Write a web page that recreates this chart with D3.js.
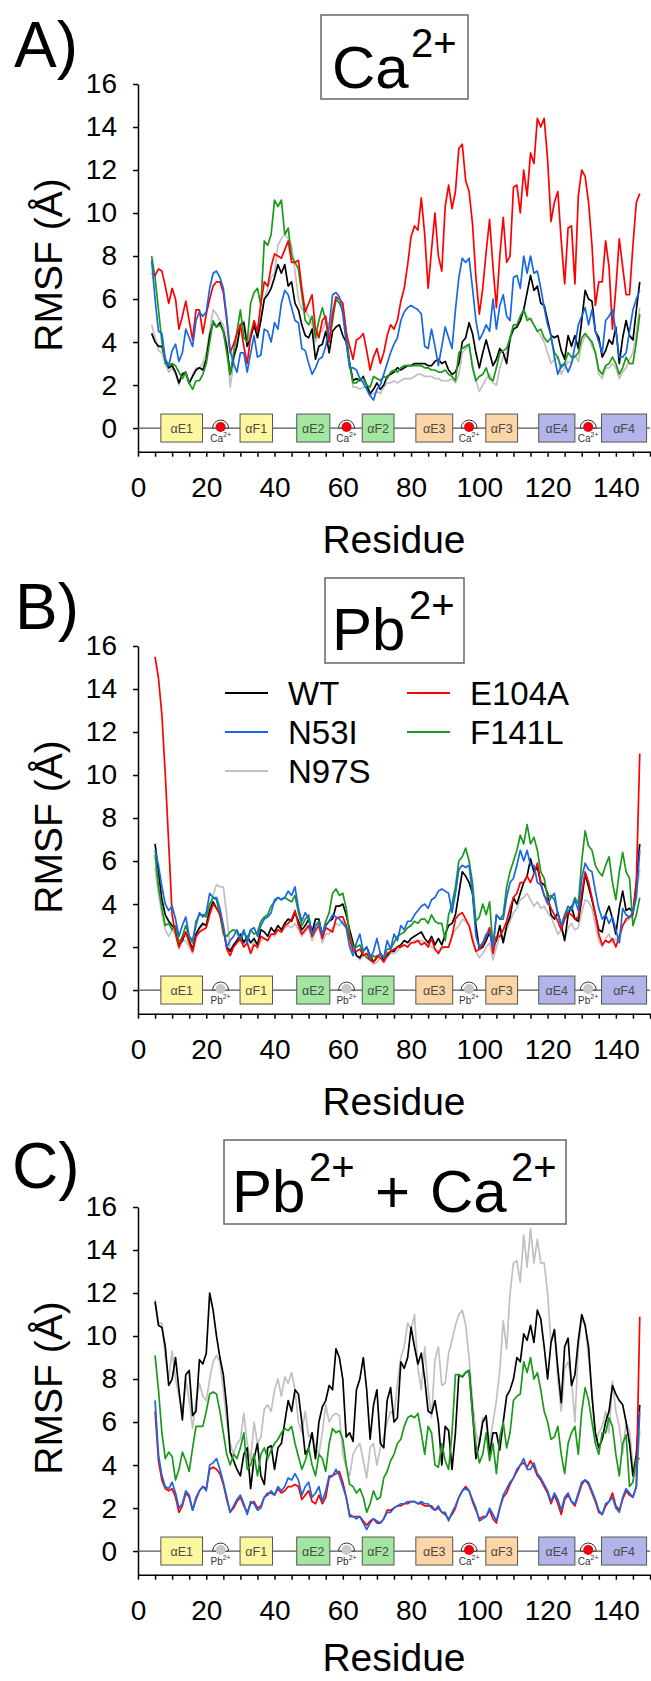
<!DOCTYPE html>
<html><head><meta charset="utf-8">
<script src="https://cdn.jsdelivr.net/npm/d3@7"></script>
<style>body{margin:0;background:#fff}svg{display:block}</style>
</head><body><svg id="chart" width="651" height="1681"></svg>
<script>
// ---------- DATA ----------
const seriesNames = ["WT", "N53I", "N97S", "E104A", "F141L"];
const seriesColors = {WT:"#000000", N53I:"#1767e6", N97S:"#c0c0c0", E104A:"#ff0000", F141L:"#1a9a1a"};
const xTickLabels = [0, 20, 40, 60, 80, 100, 120, 140];
const yTickLabels = [0, 2, 4, 6, 8, 10, 12, 14, 16];

// Panel A (Ca2+) – residues 4..147
const caStart = 4;
const caWT = [4.4,4.0,3.8,3.8,3.2,2.8,2.9,2.6,2.1,2.5,
2.6,2.1,2.4,2.7,2.8,2.7,3.2,4.3,4.9,4.7,
4.9,4.5,3.8,2.5,3.3,3.8,4.8,4.9,3.8,4.2,
4.8,4.2,5.0,6.0,6.2,6.5,7.0,7.6,7.2,7.6,
6.6,6.8,5.8,5.5,4.8,4.3,4.2,4.6,3.2,3.8,
3.9,4.5,3.5,4.5,4.7,4.8,4.3,4.0,3.0,2.2,
2.3,2.2,2.4,2.0,1.6,1.8,2.1,1.8,2.0,2.4,
2.5,2.6,2.8,2.7,2.8,2.9,2.9,3.0,3.0,3.0,
3.0,2.9,2.9,3.1,3.2,3.0,3.1,2.7,2.5,2.6,
3.0,4.0,4.2,4.9,4.4,3.5,2.8,3.5,4.1,3.5,
2.9,3.2,3.7,3.5,3.0,4.2,4.6,4.7,5.0,5.5,
6.3,7.1,6.4,6.6,5.8,5.7,5.0,4.3,4.2,4.3,
3.6,3.2,4.3,3.8,4.3,3.7,5.0,6.4,6.0,5.9,
4.5,4.2,3.3,3.6,4.1,3.9,4.7,3.0,4.2,5.0,
4.3,4.1,5.5,6.8];
const caN53I = [7.8,6.0,4.5,4.4,3.2,2.9,3.6,3.9,3.1,3.5,
4.6,4.2,3.8,5.0,5.4,5.2,5.4,6.5,7.2,7.3,
7.0,6.5,5.2,3.6,3.0,2.6,3.5,3.5,2.6,3.5,
4.3,3.3,3.4,4.6,4.5,4.0,4.9,4.6,5.8,6.4,
6.2,5.6,5.0,4.9,3.7,3.6,3.0,2.5,2.8,3.2,
3.3,3.8,4.7,6.2,6.3,6.1,5.3,4.0,2.8,2.8,
2.7,2.3,2.1,1.8,1.5,1.3,1.8,2.0,2.5,3.0,
3.5,3.9,4.2,5.0,5.4,5.6,5.7,5.6,5.5,5.3,
3.8,3.7,4.6,3.8,2.9,3.8,4.7,4.2,3.7,5.5,
7.0,7.9,7.7,7.9,6.5,5.0,4.1,4.4,4.8,4.5,
6.0,4.6,5.7,6.2,5.2,5.0,7.0,7.1,6.5,8.0,
7.2,8.0,7.2,7.3,6.5,5.6,4.8,4.3,3.3,2.5,
2.9,3.0,2.6,3.0,3.8,4.8,5.2,5.6,4.8,5.5,
4.5,4.0,3.5,5.0,5.2,5.5,4.5,3.3,3.3,3.5,
4.5,5.5,6.0,6.4];
const caN97S = [4.8,4.2,3.6,3.5,3.0,2.6,2.8,2.5,2.0,2.6,
2.4,2.0,2.5,2.8,2.8,3.0,3.5,4.5,5.5,5.3,
5.0,4.8,4.0,1.9,3.0,4.0,4.8,5.0,4.0,4.5,
4.8,4.3,5.2,6.0,6.5,7.0,7.2,8.5,8.8,9.0,
8.8,8.5,7.3,6.0,5.5,5.5,5.2,4.8,4.0,4.5,
4.5,5.0,4.8,5.5,6.0,6.0,5.8,4.5,3.0,1.9,
1.9,1.8,1.9,1.9,1.5,1.6,1.7,1.6,1.9,2.1,
2.1,2.2,2.1,2.2,2.3,2.3,2.3,2.4,2.5,2.5,
2.4,2.4,2.4,2.3,2.3,2.2,2.2,2.2,2.3,2.1,
2.5,3.5,3.7,3.8,3.0,2.2,1.7,2.0,2.3,2.5,
2.1,2.0,2.8,3.3,3.5,4.0,4.6,4.7,5.0,5.5,
5.2,5.0,4.8,4.5,4.3,4.0,3.5,3.0,3.2,3.3,
2.5,2.8,3.1,3.0,3.4,3.1,3.9,4.3,4.2,3.8,
3.5,2.5,2.3,2.8,2.8,3.0,2.8,2.3,2.6,2.8,
3.2,3.5,4.5,5.6];
const caE104A = [7.2,7.1,7.4,7.3,6.6,5.8,6.5,6.0,4.6,5.2,
5.9,5.0,4.1,5.5,5.5,4.4,5.3,6.0,6.6,6.8,
6.8,6.3,5.0,3.5,3.9,4.4,4.8,3.8,3.0,4.3,
5.0,4.5,5.8,6.8,6.6,7.5,8.1,8.0,7.9,8.3,
8.7,7.7,7.7,7.8,6.5,5.4,5.8,6.2,4.6,4.2,
5.0,5.2,4.0,5.3,6.1,6.0,5.8,4.4,3.8,3.2,
4.1,4.2,4.4,3.6,2.7,3.3,3.7,3.0,3.5,4.3,
4.8,4.6,5.0,5.9,6.5,7.6,8.9,9.4,9.2,10.7,
9.0,6.5,8.3,10.0,8.0,7.3,10.3,11.3,10.2,11.0,
13.0,13.2,11.5,11.0,9.5,7.0,5.3,6.5,8.2,9.7,
7.5,5.6,8.0,9.8,7.7,8.0,11.2,11.3,10.0,12.0,
10.8,12.8,12.3,14.4,14.0,14.4,12.5,9.6,10.5,11.0,
8.7,6.7,9.3,9.4,6.7,10.8,12.0,11.7,10.5,8.5,
5.7,6.8,6.8,8.7,7.5,4.6,6.5,8.8,7.5,6.2,
6.2,8.5,10.5,10.9];
const caF141L = [8.0,7.0,5.5,4.0,3.0,2.9,3.0,2.9,2.6,2.3,
2.6,2.1,1.8,2.2,2.2,2.5,3.0,4.0,5.0,4.7,
4.8,4.5,3.5,2.5,3.5,4.5,5.5,4.2,4.0,5.8,
6.3,6.5,5.7,8.7,8.5,9.0,10.6,10.3,10.6,9.0,
9.3,8.0,7.7,7.4,6.2,5.0,4.8,5.2,4.2,5.0,
5.6,5.0,4.0,5.0,6.0,5.8,5.5,4.5,3.0,2.1,
2.1,2.3,2.3,2.0,1.9,2.4,2.3,2.2,2.4,2.3,
2.6,2.7,2.6,2.8,2.9,2.9,2.9,2.9,2.9,2.9,
2.8,2.8,2.7,2.7,2.6,2.6,2.7,2.5,2.4,2.2,
3.5,3.7,3.8,3.9,2.8,2.2,2.4,2.5,2.8,2.3,
2.2,2.8,3.5,3.6,3.7,4.2,4.8,4.8,5.2,5.5,
5.0,5.1,4.8,4.5,4.6,4.2,4.0,4.2,3.5,3.3,
2.8,3.0,3.5,3.3,3.3,3.5,4.2,4.4,4.2,4.0,
3.5,2.7,2.5,2.9,3.0,3.3,3.0,2.5,2.8,3.3,
3.0,3.0,4.0,5.3];

// Panel B (Pb2+) – residues 5..147
const pbStart = 5;
const pbWT = [6.8,5.5,4.2,3.5,3.2,3.0,2.8,2.1,2.3,2.7,
2.3,1.9,2.6,2.9,3.1,3.0,3.7,4.1,3.8,3.6,
2.8,2.0,1.8,2.1,2.3,2.6,2.2,2.5,2.2,2.4,
2.1,2.8,2.7,2.5,2.9,2.7,3.0,2.8,3.1,3.3,
3.2,3.6,3.2,2.8,3.0,3.3,2.7,3.3,3.3,2.5,
3.0,3.2,3.3,3.9,3.9,4.0,3.5,2.8,2.2,1.6,
1.5,1.8,2.0,1.6,1.3,1.5,1.7,1.4,1.6,1.8,
1.8,2.0,2.1,2.3,2.2,2.4,2.5,2.6,2.7,2.4,
2.2,2.5,2.1,2.4,2.1,2.6,3.0,3.1,3.5,4.5,
5.5,5.3,5.0,4.5,3.0,1.9,2.0,2.3,2.7,2.0,
2.3,3.0,2.2,3.0,3.4,4.3,4.0,4.5,5.0,5.3,
6.1,5.5,5.7,5.0,4.9,4.5,3.5,3.3,3.6,3.0,
2.3,3.5,3.9,3.3,3.2,4.2,5.4,4.8,4.2,3.5,
2.8,2.7,3.5,3.9,3.3,2.6,3.8,4.6,3.7,3.8,
3.6,5.0,6.8];
const pbN53I = [6.5,5.8,4.8,4.0,3.7,3.9,3.3,2.5,3.0,3.4,
2.5,2.3,3.0,3.6,3.4,3.6,4.5,4.3,4.3,3.8,
3.0,2.0,2.3,2.5,2.8,2.4,2.8,2.2,2.8,2.9,
2.5,3.0,3.3,3.4,3.6,4.2,4.3,4.2,4.3,4.6,
4.4,4.8,3.8,3.2,3.6,3.3,2.6,3.0,3.1,2.6,
3.0,3.2,3.5,3.4,3.3,3.1,2.9,2.0,1.6,2.2,
2.6,1.8,2.0,1.5,1.8,2.4,1.7,1.5,2.3,1.9,
2.6,2.3,3.0,2.8,3.2,3.2,3.5,3.7,3.9,4.0,
3.8,4.2,4.3,4.6,4.7,4.6,4.5,3.6,4.5,5.6,
5.8,5.7,5.8,4.5,2.5,2.0,2.2,2.6,2.7,2.0,
3.5,3.3,3.3,4.3,5.0,5.2,5.8,6.5,6.0,6.5,
5.8,5.8,5.0,4.9,4.4,4.0,4.3,4.5,3.5,3.0,
3.5,3.9,3.7,4.2,3.7,5.2,5.9,5.6,5.5,4.6,
3.8,3.3,3.5,3.1,3.4,2.8,2.2,3.8,3.5,3.4,
3.6,4.3,6.5];
const pbN97S = [5.7,4.5,3.5,2.8,2.5,2.8,2.6,1.9,2.3,2.3,
2.0,1.7,2.4,2.8,3.0,3.0,3.9,4.4,4.9,4.8,
4.8,3.5,1.9,2.0,2.3,2.3,2.0,2.2,1.8,2.3,
1.9,2.3,2.4,2.3,2.6,2.5,2.8,2.7,2.9,3.0,
2.9,3.1,2.8,2.5,2.7,2.9,2.3,2.7,2.9,2.2,
2.6,2.6,2.9,3.1,3.0,3.2,2.9,2.5,2.0,1.6,
1.4,1.6,1.7,1.4,1.2,1.3,1.5,1.3,1.5,1.7,
1.7,1.8,2.0,2.1,2.0,2.2,2.3,2.3,2.3,2.2,
2.1,2.0,1.9,1.8,1.9,2.0,2.0,2.5,2.8,3.0,
3.3,3.2,3.0,2.5,1.8,1.5,1.7,2.0,2.2,1.4,
2.0,2.5,2.3,2.8,3.2,3.6,3.8,4.2,4.3,4.5,
4.2,3.9,4.1,3.8,3.9,3.6,3.4,3.0,2.6,2.8,
2.4,2.9,3.1,2.8,2.9,3.6,4.2,4.1,3.8,3.0,
2.3,2.0,2.4,2.6,2.2,2.4,2.2,3.0,3.2,3.3,
3.5,4.5,5.6];
const pbE104A = [15.5,14.5,12.8,10.0,6.8,3.5,2.6,2.0,2.4,2.7,
2.2,1.8,2.5,2.7,2.8,2.9,3.5,4.0,3.8,3.5,
2.9,1.9,1.6,2.0,2.2,2.4,2.0,2.2,1.7,2.1,
2.0,2.5,2.4,2.3,2.6,2.6,2.8,2.7,3.0,3.1,
3.3,3.7,3.0,2.6,2.8,3.0,2.5,2.8,3.0,2.4,
2.9,2.8,2.7,3.3,3.4,3.4,3.0,2.4,1.8,1.8,
1.9,1.6,1.7,1.4,1.3,1.6,1.5,1.3,1.7,1.8,
1.9,2.0,2.0,2.1,2.0,2.2,2.2,2.3,2.1,2.2,
2.0,2.4,1.9,1.7,2.0,2.0,2.0,2.5,3.3,3.5,
3.6,3.3,3.0,2.3,1.8,1.9,2.1,2.5,2.9,1.7,
2.5,2.5,2.8,3.2,3.8,4.3,4.5,5.0,5.0,5.3,
5.0,5.4,5.9,5.0,4.4,4.2,3.8,3.5,3.2,2.8,
3.3,3.6,3.5,3.3,3.4,4.5,5.5,5.0,4.3,3.5,
2.6,2.1,2.3,2.2,2.4,2.0,2.5,3.0,3.3,3.4,
3.5,5.0,11.0];
const pbF141L = [6.3,4.8,3.8,3.0,3.1,2.8,3.0,2.2,2.5,3.0,
2.5,2.2,3.2,3.5,3.5,3.4,4.0,4.3,4.2,3.5,
2.6,2.5,2.7,2.8,2.7,2.3,2.7,2.4,2.8,2.6,
2.7,3.2,3.4,3.5,3.9,4.1,4.3,4.2,4.3,4.2,
4.1,4.4,3.6,3.0,3.3,3.5,2.5,3.0,3.2,2.6,
3.2,3.6,4.5,4.7,4.4,4.5,3.8,2.6,2.0,2.0,
2.1,1.7,1.5,1.4,1.6,1.5,1.7,1.5,1.9,1.9,
2.2,2.5,2.6,2.7,2.9,3.0,3.2,3.1,3.3,3.3,
3.1,3.5,3.2,3.1,3.1,2.3,3.5,4.0,4.8,6.0,
6.2,6.6,6.0,5.0,3.2,3.4,4.0,3.5,4.1,2.0,
3.5,3.3,3.5,4.8,5.5,6.0,6.5,7.2,6.8,7.7,
6.8,7.1,6.5,5.5,5.2,4.3,4.4,4.2,3.6,3.0,
3.4,3.7,3.8,4.3,4.0,6.0,7.4,6.7,6.5,5.8,
5.5,5.3,5.8,6.2,5.0,4.2,5.5,6.4,5.5,5.2,
3.0,3.5,4.3];

// Panel C (Pb2+ + Ca2+) – residues 5..147
const mixStart = 5;
const mixWT = [11.6,10.5,10.4,9.5,7.7,8.0,9.0,7.5,6.1,8.2,
8.4,6.3,6.5,8.9,8.7,9.2,12.0,11.2,10.0,9.0,
8.2,6.7,4.6,4.2,3.8,3.5,4.5,4.8,2.9,4.3,
5.0,3.5,3.1,4.8,4.9,3.8,4.8,5.0,6.0,7.0,
6.5,7.5,7.3,6.0,4.5,4.8,5.5,4.3,6.0,6.7,
7.0,7.7,7.5,9.4,9.0,8.0,5.3,5.5,5.1,7.5,
8.0,9.0,7.5,5.2,6.8,7.5,5.0,4.8,7.0,7.6,
6.0,6.2,8.8,8.5,9.0,10.4,9.5,8.7,9.2,8.0,
6.5,6.4,7.0,6.0,4.0,5.8,5.6,3.8,5.5,8.2,
8.1,8.3,8.4,6.5,4.3,5.0,6.0,6.3,4.5,5.5,
5.5,4.7,6.0,7.2,7.5,8.0,9.0,8.8,10.1,9.8,
10.5,9.7,11.2,10.8,9.5,8.0,9.7,10.3,8.5,6.9,
9.5,9.9,7.7,8.2,9.8,11.0,10.5,9.5,7.2,5.5,
4.8,5.2,6.0,6.5,7.7,7.3,7.0,6.8,6.0,5.0,
3.5,4.5,6.8];
const mixN53I = [7.0,4.5,3.5,3.0,2.9,3.2,2.7,2.0,2.2,2.8,
2.6,1.9,2.5,2.8,3.0,2.8,4.0,4.1,4.3,3.8,
3.2,2.5,1.8,2.1,2.4,2.6,2.2,1.7,2.3,2.2,
1.9,2.0,2.5,2.6,2.8,2.6,3.0,2.8,3.0,3.4,
3.3,3.6,3.3,2.6,3.0,3.2,2.5,2.7,3.0,2.3,
2.8,3.5,3.5,3.8,3.5,3.0,2.5,1.6,1.6,1.5,
1.6,1.3,1.0,1.3,1.5,1.4,1.3,1.5,1.8,1.8,
2.0,2.1,2.2,2.2,2.3,2.3,2.3,2.2,2.3,2.2,
2.2,2.0,1.9,2.1,1.8,1.8,1.4,1.8,2.1,2.5,
2.8,2.9,2.8,2.4,2.0,1.4,1.5,1.6,2.0,1.7,
1.4,2.0,2.6,2.9,3.2,3.4,3.8,4.0,4.3,3.8,
3.8,4.1,3.6,3.4,3.1,2.8,2.3,2.7,2.4,1.9,
2.5,2.7,2.3,2.2,2.7,3.2,3.3,3.2,2.8,2.4,
1.9,1.7,2.2,2.3,2.5,2.0,1.8,2.5,2.9,2.7,
2.5,3.0,6.5];
const mixN97S = [11.7,10.6,10.6,9.0,8.0,9.3,8.0,7.2,6.5,8.0,
7.0,5.7,7.0,7.8,7.2,7.0,8.0,8.8,9.1,8.8,
7.5,6.0,5.0,4.5,5.0,5.2,6.4,5.0,4.2,6.0,
5.0,5.3,6.6,6.8,6.5,7.5,8.0,7.2,8.1,7.8,
8.3,7.5,6.0,5.5,6.5,5.3,5.5,4.8,4.5,5.5,
6.8,6.0,6.3,6.4,6.3,4.5,3.9,3.5,4.5,4.8,
5.0,4.2,3.4,4.8,5.0,4.0,4.8,5.3,6.0,6.5,
6.3,7.8,9.0,9.5,10.6,10.3,11.0,8.5,7.5,9.5,
7.5,6.2,8.9,9.5,7.7,7.8,9.2,9.8,10.5,11.0,
11.2,10.5,9.0,7.0,5.5,5.0,6.2,6.0,5.0,6.0,
7.0,8.4,10.7,9.4,12.0,13.4,13.5,12.5,14.7,13.2,
15.0,13.4,14.5,13.4,13.4,12.0,9.7,10.2,8.0,6.5,
8.5,8.8,8.0,6.0,9.5,10.8,10.5,9.0,7.5,5.0,
5.5,5.8,6.5,5.5,7.9,6.5,5.8,4.5,6.0,5.6,
4.0,3.5,5.6];
const mixE104A = [6.5,4.2,3.3,2.9,2.8,2.9,2.5,1.8,2.1,2.7,
2.5,1.9,2.4,2.8,3.0,2.9,3.8,3.9,3.8,3.6,
3.1,2.4,1.8,2.0,2.3,2.5,2.1,1.8,2.2,2.3,
2.0,2.1,2.5,2.7,2.7,2.6,2.9,2.7,2.8,3.0,
3.0,3.1,3.0,2.4,2.6,2.8,2.3,2.2,2.6,2.2,
2.5,3.4,3.5,3.6,3.7,3.2,2.5,1.7,1.6,1.6,
1.6,1.4,1.2,1.4,1.5,1.3,1.3,1.5,1.9,1.9,
2.0,2.1,2.1,2.2,2.2,2.3,2.3,2.2,2.2,2.1,
2.1,2.1,1.9,2.0,1.8,1.7,1.5,1.7,2.0,2.5,
2.8,3.0,2.8,2.3,1.9,1.5,1.6,1.6,1.9,1.5,
1.3,2.0,2.5,2.7,3.1,3.4,3.7,4.0,4.1,3.9,
4.2,3.9,3.5,3.3,3.0,2.7,2.2,2.6,2.2,1.7,
2.4,2.6,2.3,2.1,2.6,3.1,3.3,3.1,2.7,2.3,
1.8,1.7,2.1,2.3,2.7,2.1,1.9,2.4,2.8,2.6,
2.5,3.0,10.9];
const mixF141L = [9.1,7.5,5.5,4.3,4.6,4.4,3.3,3.8,4.6,4.2,
3.7,4.8,5.8,5.8,5.8,6.5,7.3,7.4,7.3,6.5,
5.5,4.5,4.0,4.5,4.3,4.8,5.5,3.8,4.0,4.5,
3.5,4.5,4.8,4.3,4.7,5.0,5.2,5.5,5.7,5.6,
5.8,5.0,4.4,3.8,4.2,4.8,4.0,3.5,4.5,4.3,
3.7,5.0,5.7,5.5,5.6,5.2,4.0,3.1,3.0,2.7,
2.9,2.5,1.8,2.2,2.8,2.4,2.5,3.4,3.7,4.2,
4.5,5.0,5.2,5.8,6.2,6.3,6.2,6.4,5.5,4.5,
5.8,5.5,4.0,3.9,5.0,4.2,3.8,5.5,8.2,8.2,
8.1,8.3,8.4,6.3,5.0,4.1,4.5,5.5,4.2,5.0,
3.6,5.3,6.0,4.8,5.5,7.0,7.2,7.3,8.8,8.3,
9.0,8.0,8.3,7.5,6.5,6.0,5.2,5.3,5.8,4.5,
3.6,5.0,5.5,5.8,4.5,6.5,7.6,7.0,6.0,5.0,
4.5,5.5,5.5,6.2,5.8,4.5,3.5,5.0,5.4,3.0,
3.2,4.3,4.3];

// Secondary-structure diagram (residue ranges) and metal sites
const helices = [
  {label:"αE1", from:6.7, to:18.9, fill:"#fdf7a0"},
  {label:"αF1", from:29.9, to:39.4, fill:"#fdf7a0"},
  {label:"αE2", from:46.5, to:56.2, fill:"#a2e6a0"},
  {label:"αF2", from:65.7, to:75.0, fill:"#a2e6a0"},
  {label:"αE3", from:81.4, to:92.2, fill:"#fcd6a6"},
  {label:"αF3", from:101.9, to:111.2, fill:"#fcd6a6"},
  {label:"αE4", from:117.4, to:128.0, fill:"#b3b5ea"},
  {label:"αF4", from:135.8, to:149.0, fill:"#b3b5ea"}
];
const siteResidues = [24.2, 61.1, 97.0, 131.9];
const ionsA = ["Ca", "Ca", "Ca", "Ca"];
const ionsB = ["Pb", "Pb", "Pb", "Pb"];
const ionsC = ["Pb", "Pb", "Ca", "Ca"];

// ---------- DRAWING ----------
const FONT = '"Liberation Sans", Arial, Helvetica, sans-serif';
const svg = d3.select("#chart");
svg.append("rect").attr("width", 651).attr("height", 1681).attr("fill", "#fff");

const x = d3.scaleLinear().domain([0, 150]).range([138, 650]);
const y = d3.scaleLinear().domain([-1.1, 16]).range([451.7, 84]);

const panels = [
  {letter:"A)", letterX:14, letterY:67, offset:0, start:caStart, xlabY:553,
   data:{WT:caWT, N53I:caN53I, N97S:caN97S, E104A:caE104A, F141L:caF141L}, ions:ionsA,
   box:[321, 15, 147, 84],
   title:[{t:"Ca", x:332, s:60, b:88}, {t:"2+", x:411, s:40, b:57}]},
  {letter:"B)", letterX:15, letterY:67, offset:562, start:pbStart, xlabY:553,
   data:{WT:pbWT, N53I:pbN53I, N97S:pbN97S, E104A:pbE104A, F141L:pbF141L}, ions:ionsB,
   box:[325, 16, 139, 85],
   title:[{t:"Pb", x:332, s:60, b:88}, {t:"2+", x:409, s:40, b:57}], legend:true},
  {letter:"C)", letterX:12, letterY:65, offset:1123, start:mixStart, xlabY:548,
   data:{WT:mixWT, N53I:mixN53I, N97S:mixN97S, E104A:mixE104A, F141L:mixF141L}, ions:ionsC,
   box:[224, 17, 342, 84],
   title:[{t:"Pb", x:232, s:60, b:89}, {t:"2+", x:309, s:40, b:58},
          {t:"+", x:375, s:60, b:89}, {t:"Ca", x:430, s:60, b:89}, {t:"2+", x:511, s:40, b:58}]}
];

const drawOrder = ["N97S", "WT", "F141L", "E104A", "N53I"];

panels.forEach(p => {
  const g = svg.append("g").attr("transform", `translate(0,${p.offset})`)
    .attr("font-family", FONT);

  // panel letter
  g.append("text").attr("x", p.letterX).attr("y", p.letterY)
    .attr("font-size", 64).attr("fill", "#000").text(p.letter);

  // title box
  g.append("rect").attr("x", p.box[0]).attr("y", p.box[1])
    .attr("width", p.box[2]).attr("height", p.box[3])
    .attr("fill", "#fff").attr("stroke", "#666").attr("stroke-width", 1.5);
  p.title.forEach(tp => {
    g.append("text").attr("x", tp.x).attr("y", tp.b).attr("font-size", tp.s)
      .attr("fill", "#000").text(tp.t);
  });

  // axes
  const yAxis = d3.axisLeft(y).tickValues(yTickLabels).tickSize(5)
    .tickPadding(16).tickSizeOuter(0);
  const ya = g.append("g").attr("transform", "translate(138,0)").call(yAxis);
  ya.attr("font-family", FONT).attr("font-size", 28);
  ya.selectAll("text").attr("fill", "#000");
  ya.selectAll("line,path").attr("stroke", "#000").attr("stroke-width", 1.5);

  const xAxis = d3.axisBottom(x).tickValues(d3.range(0, 151, 5))
    .tickFormat(d => xTickLabels.includes(d) ? d : "")
    .tickSize(5).tickPadding(20).tickSizeOuter(0);
  const xa = g.append("g").attr("transform", `translate(0,${y(-1.1)})`).call(xAxis);
  xa.attr("font-family", FONT).attr("font-size", 28);
  xa.selectAll("text").attr("fill", "#000");
  xa.selectAll("line,path").attr("stroke", "#000").attr("stroke-width", 1.5);

  // axis titles
  g.append("text").attr("transform", "translate(62,265) rotate(-90)")
    .attr("text-anchor", "middle").attr("font-size", 39).attr("fill", "#000")
    .text("RMSF (Å)");
  g.append("text").attr("x", 394).attr("y", p.xlabY).attr("text-anchor", "middle")
    .attr("font-size", 39).attr("fill", "#000").text("Residue");

  // secondary structure diagram
  const y0 = y(0);
  g.append("line").attr("x1", 138).attr("x2", 650).attr("y1", y0).attr("y2", y0)
    .attr("stroke", "#555").attr("stroke-width", 1.2);
  helices.forEach(h => {
    g.append("rect").attr("x", x(h.from)).attr("y", y0 - 14)
      .attr("width", x(h.to) - x(h.from)).attr("height", 28)
      .attr("fill", h.fill).attr("stroke", "#555").attr("stroke-width", 1);
    g.append("text").attr("x", (x(h.from) + x(h.to)) / 2).attr("y", y0 + 4.5)
      .attr("text-anchor", "middle").attr("font-size", 12.5).attr("fill", "#4a4a4a")
      .text(h.label);
  });
  siteResidues.forEach((r, k) => {
    const cx = x(r), ion = p.ions[k];
    g.append("path").attr("d", `M${cx - 8},${y0} A8,8 0 0 1 ${cx + 8},${y0} Z`)
      .attr("fill", "#fff").attr("stroke", "#333").attr("stroke-width", 1);
    g.append("circle").attr("cx", cx).attr("cy", y0 - 1).attr("r", 5)
      .attr("fill", ion === "Ca" ? "#ee0011" : "#c8c8c8");
    const t = g.append("text").attr("x", cx).attr("y", y0 + 14)
      .attr("text-anchor", "middle").attr("font-size", 10).attr("fill", "#333");
    t.append("tspan").text(ion);
    t.append("tspan").attr("font-size", 7).attr("dy", -5).text("2+");
  });

  // data lines
  const line = d3.line().x((d, j) => x(p.start + j)).y(d => y(d));
  drawOrder.forEach(name => {
    g.append("path").datum(p.data[name]).attr("d", line)
      .attr("fill", "none").attr("stroke", seriesColors[name])
      .attr("stroke-width", 1.7).attr("stroke-linejoin", "round");
  });

  // legend
  if (p.legend) {
    const items = [
      {n:"WT", x:225, y:131}, {n:"N53I", x:225, y:170}, {n:"N97S", x:225, y:209},
      {n:"E104A", x:407, y:131}, {n:"F141L", x:407, y:170}
    ];
    items.forEach(it => {
      g.append("line").attr("x1", it.x).attr("x2", it.x + 43)
        .attr("y1", it.y).attr("y2", it.y)
        .attr("stroke", seriesColors[it.n]).attr("stroke-width", 2);
      g.append("text").attr("x", it.x + 63).attr("y", it.y + 12)
        .attr("font-size", 33).attr("fill", "#000").text(it.n);
    });
  }
});
</script>
</body></html>
